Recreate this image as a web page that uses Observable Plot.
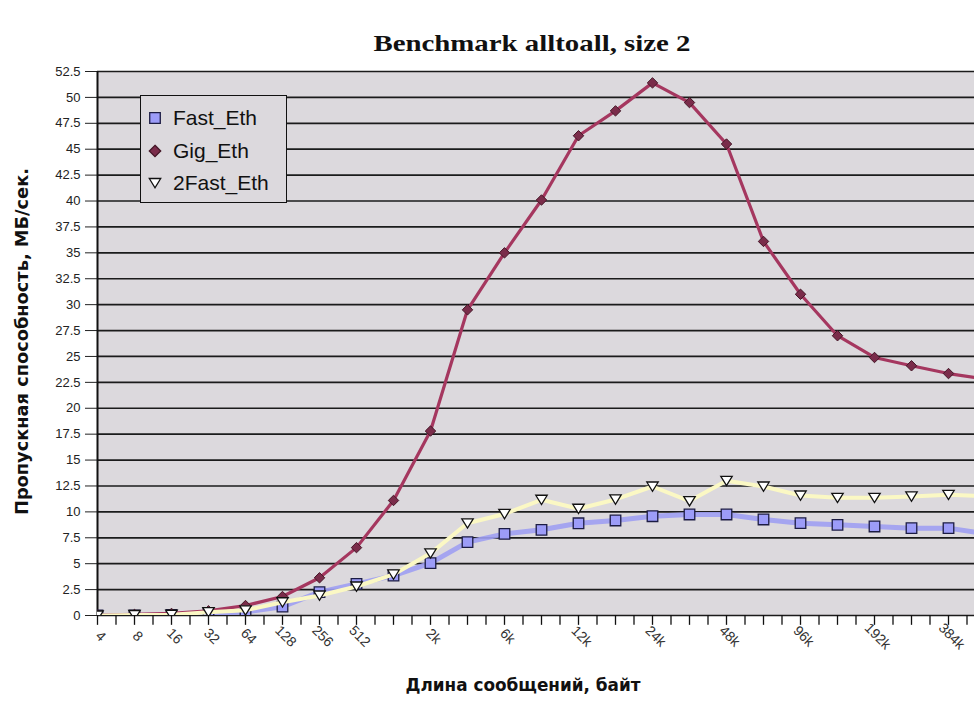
<!DOCTYPE html>
<html>
<head>
<meta charset="utf-8">
<script src="https://cdn.jsdelivr.net/npm/d3@7"></script>
<script src="https://cdn.jsdelivr.net/npm/@observablehq/plot@0.6"></script>
<style>
  html, body { margin: 0; padding: 0; background: #fff; overflow: hidden; }
  #chart { position: relative; width: 974px; height: 710px; }
  #legend {
    position: absolute; left: 140px; top: 95px; width: 147px; height: 108px;
    box-sizing: border-box; background: #dcd9dd; border: 1.5px solid #111;
    font: 21px "Liberation Sans", Arial, sans-serif; color: #111;
  }
  #legend .item { position: absolute; left: 6px; height: 30px; display: flex; align-items: center; white-space: nowrap; }
  #legend .item svg { width: 16px; height: 16px; margin-right: 10px; }
</style>
</head>
<body>
<div id="chart"></div>
<script>
// Message sizes (bytes) on the category axis, and the ones that carry a label
const sizes = ["4", "8", "16", "32", "64", "128", "256", "512", "1k", "2k", "4k", "6k", "8k",
  "12k", "16k", "24k", "32k", "48k", "64k", "96k", "128k", "192k", "256k", "384k", "512k"];
const labeledSizes = ["4", "8", "16", "32", "64", "128", "256", "512", "2k", "6k", "12k",
  "24k", "48k", "96k", "192k", "384k"];

// Throughput, MB/s, one value per message size
const fastEth = [0, 0, 0.05, 0.15, 0.35, 0.85, 2.25, 3.05, 3.85, 5.05, 7.08, 7.88, 8.27,
  8.9, 9.17, 9.58, 9.75, 9.75, 9.27, 8.91, 8.75, 8.59, 8.43, 8.43, 7.9];
const gigEth = [0.05, 0.1, 0.2, 0.45, 0.96, 1.83, 3.64, 6.55, 11.1, 17.8, 29.5, 35.0, 40.1,
  46.3, 48.7, 51.4, 49.5, 45.5, 36.1, 31.0, 27.0, 24.9, 24.1, 23.35, 22.8];
const twoFastEth = [0, 0.05, 0.07, 0.32, 0.5, 1.28, 1.93, 2.8, 3.96, 6.0, 8.9, 9.8, 11.17,
  10.3, 11.2, 12.45, 11.04, 13.0, 12.45, 11.58, 11.36, 11.36, 11.49, 11.65, 11.5];

const yTicks = [0, 2.5, 5, 7.5, 10, 12.5, 15, 17.5, 20, 22.5, 25, 27.5, 30, 32.5, 35, 37.5,
  40, 42.5, 45, 47.5, 50, 52.5];

const seriesNames = ["Fast_Eth", "Gig_Eth", "2Fast_Eth"];
const titleText = "Benchmark alltoall, size 2";
const yTitle = "Пропускная способность, МБ/сек.";
const xTitle = "Длина сообщений, байт";

// Marker shapes (size is the area Plot passes in: π·r²)
const squareSym = { draw(ctx, size) { const r = Math.sqrt(size / Math.PI) * 0.88; ctx.rect(-r, -r, 2 * r, 2 * r); } };
const diamondSym = { draw(ctx, size) { const r = Math.sqrt(size / Math.PI) * 0.95;
  ctx.moveTo(0, -r); ctx.lineTo(r, 0); ctx.lineTo(0, r); ctx.lineTo(-r, 0); ctx.closePath(); } };
const triDownSym = { draw(ctx, size) { const r = Math.sqrt(size / Math.PI);
  ctx.moveTo(-r * 0.95, -r * 0.75); ctx.lineTo(r * 0.95, -r * 0.75); ctx.lineTo(0, r * 0.8); ctx.closePath(); } };

const rows = (vals) => vals.map((v, i) => ({ i, v }));
const fastRows = rows(fastEth), gigRows = rows(gigEth), twoRows = rows(twoFastEth);

// tick marks on the category axis: at every category and between neighbours
const xTickPos = d3.range(0, sizes.length - 0.5, 0.5);

const styles = {
  fast: { line: "#9f9ef2", width: 5, fill: "#9c9cf8", stroke: "#1c1c44", sym: squareSym },
  gig: { line: "#a5375f", width: 3.2, fill: "#7a2c4a", stroke: "#451828", sym: diamondSym },
  two: { line: "#fbf8c4", width: 4, fill: "#ffffff", stroke: "#111111", sym: triDownSym }
};

const narrowBold = "'Liberation Sans Narrow', 'DejaVu Sans Condensed', sans-serif";

const chart = Plot.plot({
  width: 974,
  height: 710,
  marginTop: 71,
  marginBottom: 95,
  marginLeft: 97,
  marginRight: 0,
  style: { fontFamily: "'Liberation Sans', Arial, sans-serif", fontSize: "13px", color: "#222", background: "#fff" },
  x: { type: "linear", domain: [0, sizes.length - 1], range: [97, 97 + 37 * (sizes.length - 1)], axis: null },
  y: { domain: [0, 52.5], ticks: yTicks, tickFormat: d => String(d), tickSize: 12, tickPadding: 5, label: null },
  marks: [
    Plot.frame({ fill: "#dcd9dd", stroke: "none" }),
    Plot.ruleY(yTicks, { stroke: "#1b1b1b", strokeWidth: 1.7 }),
    Plot.ruleX([0], { stroke: "#111", strokeWidth: 2 }),
    Plot.ruleX(xTickPos, { x: d => d, y1: 0, y2: -0.95, stroke: "#111", strokeWidth: 1.3 }),

    Plot.line(fastRows, { x: "i", y: "v", stroke: styles.fast.line, strokeWidth: styles.fast.width, strokeOpacity: 0.9, clip: true }),
    Plot.dot(fastRows, { x: "i", y: "v", r: 6, symbol: styles.fast.sym, fill: styles.fast.fill, stroke: styles.fast.stroke, strokeWidth: 1.3, clip: true }),
    Plot.line(gigRows, { x: "i", y: "v", stroke: styles.gig.line, strokeWidth: styles.gig.width, clip: true }),
    Plot.dot(gigRows, { x: "i", y: "v", r: 5.5, symbol: styles.gig.sym, fill: styles.gig.fill, stroke: styles.gig.stroke, strokeWidth: 1, clip: true }),
    Plot.line(twoRows, { x: "i", y: "v", stroke: styles.two.line, strokeWidth: styles.two.width, clip: true }),
    Plot.dot(twoRows, { x: "i", y: "v", r: 6, symbol: styles.two.sym, fill: styles.two.fill, stroke: styles.two.stroke, strokeWidth: 1.3, clip: true }),

    Plot.text(labeledSizes, { x: d => sizes.indexOf(d), frameAnchor: "bottom", dy: 24, rotate: 45,
      textAnchor: "middle", fontSize: 14, fill: "#333" }),

    Plot.text([titleText], { frameAnchor: "top", dy: -38, dx: -4, fontSize: 24,
      fontWeight: "bold", fontFamily: "'Liberation Serif', 'DejaVu Serif', serif", fill: "#111" }),
    Plot.text([yTitle], { frameAnchor: "left", dx: -75, dy: -2, rotate: -90, textAnchor: "middle",
      fontSize: 17, fontWeight: "bold", fontFamily: narrowBold, fill: "#111" }),
    Plot.text([xTitle], { frameAnchor: "bottom", dy: 75, dx: -13, textAnchor: "middle",
      fontSize: 17, fontWeight: "bold", fontFamily: narrowBold, fill: "#111" })
  ]
});

// stretch the three titles to their printed widths
const widths = new Map([[titleText, 317], [yTitle, 347], [xTitle, 235]]);
d3.select(chart).selectAll("text").each(function () {
  const w = widths.get(this.textContent);
  if (w) d3.select(this).attr("textLength", w).attr("lengthAdjust", "spacingAndGlyphs");
});

const root = document.getElementById("chart");
root.appendChild(chart);

// Legend box over the upper-left part of the plot
const legend = document.createElement("div");
legend.id = "legend";
const symPath = (sym) => { const p = d3.path(); sym.draw(p, Math.PI * 36); return p.toString(); };
const legendItems = [
  { name: seriesNames[0], s: styles.fast },
  { name: seriesNames[1], s: styles.gig },
  { name: seriesNames[2], s: styles.two }
];
legendItems.forEach((it, k) => {
  const div = document.createElement("div");
  div.className = "item";
  div.style.top = (7 + k * 32.5) + "px";
  div.innerHTML = `<svg viewBox="-8 -8 16 16"><path d="${symPath(it.s.sym)}" fill="${it.s.fill}" stroke="${it.s.stroke}" stroke-width="1.3"/></svg><span>${it.name}</span>`;
  legend.appendChild(div);
});
root.appendChild(legend);
</script>
</body>
</html>
